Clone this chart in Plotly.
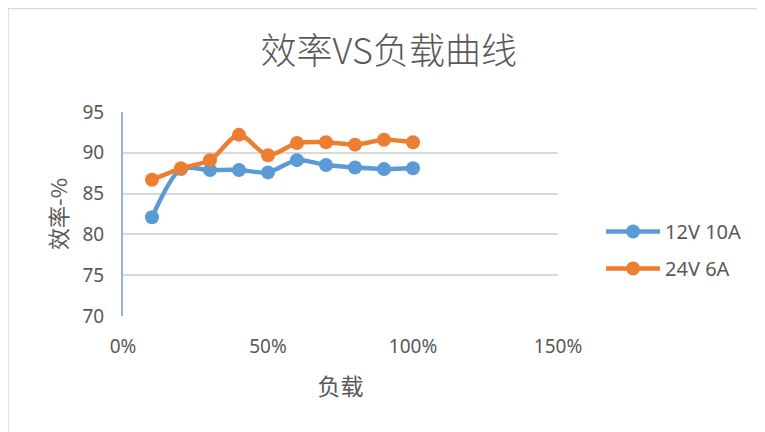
import plotly.graph_objects as go

load = [0.1, 0.2, 0.3, 0.4, 0.5, 0.6, 0.7, 0.8, 0.9, 1.0]
eff_12v10a = [82.1, 88.0, 87.9, 87.9, 87.6, 89.1, 88.5, 88.2, 88.0, 88.1]
eff_24v6a = [86.7, 88.1, 89.1, 92.2, 89.7, 91.2, 91.3, 91.0, 91.6, 91.3]
series_names = ["12V 10A", "24V 6A"]
x_ticks = [0, 0.5, 1.0, 1.5]
x_tick_labels = ["0%", "50%", "100%", "150%"]
y_ticks = [70, 75, 80, 85, 90, 95]

colors = ["#5B9BD5", "#ED7D31"]
font_main = "Noto Sans CJK SC"
text_color = "#595959"

W, H = 757, 424
L, T, R, B = 115, 104, 207, 116
PW, PH = W - L - R, H - T - B

fig = go.Figure()
for i, (name, vals, c) in enumerate(zip(series_names, [eff_12v10a, eff_24v6a], colors)):
    fig.add_trace(go.Scatter(
        x=load, y=vals, name=name, mode="lines+markers", legendgroup=f"g{i}",
        line=dict(color=c, width=4.5, shape="spline", smoothing=0.8),
        marker=dict(color=c, size=14),
    ))

fig.update_layout(
    width=W, height=H,
    paper_bgcolor="white", plot_bgcolor="white",
    margin=dict(l=L, r=R, t=T, b=B),
    title=dict(text="效率VS负载曲线", x=0.503, xref="container", xanchor="center",
               y=0.898, yref="container", yanchor="middle",
               font=dict(family=font_main, size=36, color=text_color, weight=300)),
    font=dict(family=font_main, color=text_color),
    showlegend=True,
    legend=dict(x=1.099, y=0.51, xanchor="left", yanchor="top",
                font=dict(family="Noto Sans", size=20, color=text_color),
                tracegroupgap=8, itemwidth=54, bgcolor="rgba(0,0,0,0)"),
    xaxis=dict(range=[0, 1.5], tickvals=x_ticks, ticktext=x_tick_labels,
               showgrid=False, zeroline=False, showline=False,
               tickfont=dict(family="Noto Sans", size=19, color=text_color),
               ticks="", ticklabelstandoff=17,
               title=dict(text="负载", font=dict(family=font_main, size=23, color=text_color),
                          standoff=20)),
    yaxis=dict(range=[70, 95], tickvals=y_ticks, showgrid=True, gridcolor="#D9D9D9",
               gridwidth=1.5, zeroline=False, showline=True, linecolor="#8FB4DE",
               linewidth=2, ticks="",
               tickfont=dict(family="Noto Sans", size=19, color=text_color),
               ticklabelstandoff=13,
               title=dict(text="效率-%", font=dict(family=font_main, size=22, color=text_color),
                          standoff=9)),
)

# outer chart border (as in the reference image)
fig.add_shape(type="rect", xref="paper", yref="paper",
              x0=(0 - L) / PW, x1=(W + 5 - L) / PW,
              y0=-(B + 10) / PH, y1=(PH + T - 0.5) / PH,
              line=dict(color="#D9D9D9", width=1.5), fillcolor="rgba(0,0,0,0)", layer="below")

fig.write_html("out.html")
